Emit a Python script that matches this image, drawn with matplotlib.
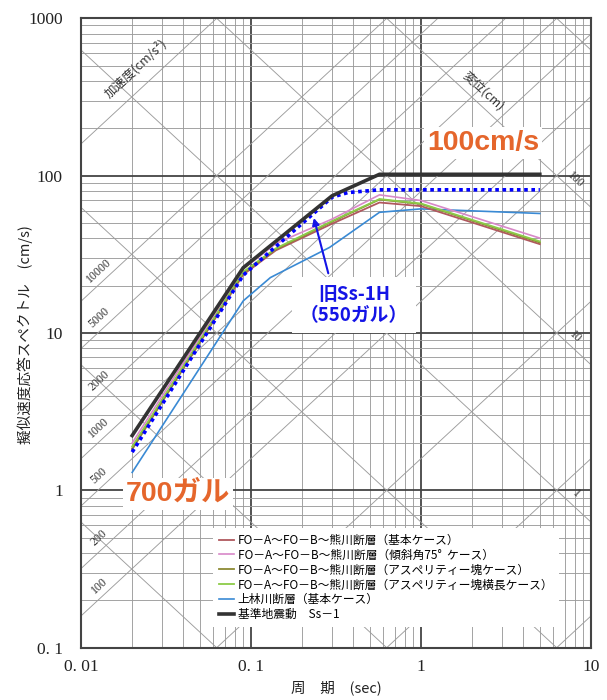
import numpy as np
import matplotlib
matplotlib.use("Agg")
import matplotlib.pyplot as plt
from matplotlib.ticker import LogLocator, FixedLocator, NullFormatter, FixedFormatter

JP = ['Noto Sans CJK JP', 'DejaVu Sans']
SERIF = ['Liberation Serif', 'DejaVu Serif']
plt.rcParams['font.family'] = JP

# ---------------- data ----------------
T_ss1 = [0.02, 0.09, 0.3, 0.57, 5.0]
Sv_ss1 = [2.23, 26.0, 74.5, 102.0, 102.0]

T_old = [0.02, 0.09, 0.3, 0.37, 0.57, 5.0]
Sv_old = [1.75, 23.3, 73.0, 78.0, 81.3, 81.3]

T_fault = [0.02, 0.09, 0.14, 0.3, 0.57, 1.0, 5.0]
Sv_kihon = [1.85, 23.5, 33.5, 49.5, 67.5, 64.0, 36.7]
Sv_keisha = [2.0, 25.5, 37.0, 53.0, 75.5, 69.5, 40.1]
Sv_asp = [1.82, 24.0, 34.0, 51.0, 70.5, 66.0, 37.6]
Sv_asp_long = [1.9, 24.5, 34.5, 51.5, 71.0, 66.5, 38.2]

T_kami = [0.02, 0.09, 0.13, 0.29, 0.57, 1.0, 5.0]
Sv_kami = [1.3, 16.0, 22.5, 35.0, 58.5, 61.5, 57.5]

labels = ['FO－A～FO－B～熊川断層（基本ケース）',
          'FO－A～FO－B～熊川断層（傾斜角75°  ケース）',
          'FO－A～FO－B～熊川断層（アスペリティー塊ケース）',
          'FO－A～FO－B～熊川断層（アスペリティー塊横長ケース）',
          '上林川断層（基本ケース）',
          '基準地震動　Ss－1']

x_ticks = [0.01, 0.1, 1, 10]
x_ticklabels = ['0. 01', '0. 1', '1', '10']
y_ticks = [0.1, 1, 10, 100, 1000]
y_ticklabels = ['0. 1', '1', '10', '100', '1000']

acc_lines = [0.1, 1, 10, 100, 200, 500, 1000, 2000, 5000, 10000, 100000]
acc_labels = [100, 200, 500, 1000, 2000, 5000, 10000]
disp_lines = [0.001, 0.01, 0.1, 1, 10, 100, 1000]
disp_labels = [1, 10, 100]

# ---------------- figure ----------------
W, H = 607, 700
fig = plt.figure(figsize=(W / 100, H / 100), dpi=100)
ax = fig.add_axes([81 / W, 1 - 647.7 / H, 510 / W, 629.4 / H])
ax.set_xscale('log')
ax.set_yscale('log')
ax.set_xlim(0.01, 10)
ax.set_ylim(0.1, 1000)

# grid
ax.xaxis.set_major_locator(FixedLocator(x_ticks))
ax.yaxis.set_major_locator(FixedLocator(y_ticks))
ax.xaxis.set_major_formatter(FixedFormatter(x_ticklabels))
ax.yaxis.set_major_formatter(FixedFormatter(y_ticklabels))
ax.xaxis.set_minor_locator(LogLocator(base=10, subs=np.arange(2, 10)))
ax.yaxis.set_minor_locator(LogLocator(base=10, subs=np.arange(2, 10)))
ax.xaxis.set_minor_formatter(NullFormatter())
ax.yaxis.set_minor_formatter(NullFormatter())
ax.grid(which='minor', color='#9c9c9c', lw=0.65, zorder=0)
ax.grid(which='major', color='#444444', lw=1.3, zorder=0)
ax.set_axisbelow(True)
ax.tick_params(which='both', length=0)
ax.tick_params(axis='y', pad=13)
ax.tick_params(axis='x', pad=8)
for lab in ax.get_xticklabels() + ax.get_yticklabels():
    lab.set_fontfamily(SERIF)
    lab.set_fontsize(12.5)
    lab.set_color('#222222')
for s in ax.spines.values():
    s.set_color('#444444')
    s.set_linewidth(1.5)

# tripartite lines
Tg = np.logspace(-2, 1, 200)
for a in acc_lines:
    ax.plot(Tg, a * Tg / (2 * np.pi), color='#9c9c9c', lw=0.65, zorder=1)
for d in disp_lines:
    ax.plot(Tg, 2 * np.pi * d / Tg, color='#9c9c9c', lw=0.65, zorder=1)

ang = np.degrees(np.arctan(157.3 / 170.0))
Ta = 0.0135
for a in acc_labels:
    ax.annotate(str(a), (Ta, a * Ta / (2 * np.pi)), xytext=(0, 4), textcoords='offset points',
                rotation=ang, rotation_mode='anchor', ha='center', va='bottom',
                fontsize=8.5, family=SERIF, color='#333333', zorder=2)
Td = 7.7
for d in disp_labels:
    ax.annotate(str(d), (Td, 2 * np.pi * d / Td), xytext=(0, 4), textcoords='offset points',
                rotation=-ang, rotation_mode='anchor', ha='center', va='bottom',
                fontsize=8.5, family=SERIF, color='#333333', zorder=2)
ax.text((136 - 81) / 510, (647.7 - 68) / 629.4, '加速度(cm/s²)', transform=ax.transAxes,
        rotation=ang, ha='center', va='center', fontsize=9, family=JP, color='#333333')
ax.text((483 - 81) / 510, (647.7 - 91) / 629.4, '変位(cm)', transform=ax.transAxes,
        rotation=-ang, ha='center', va='center', fontsize=9, family=JP, color='#333333')

# curves
ax.plot(T_kami, Sv_kami, color='#3a8ad4', lw=1.2, zorder=4, label=labels[4])
ax.plot(T_fault, Sv_kihon, color='#b0585e', lw=1.3, zorder=4, label=labels[0])
ax.plot(T_fault, Sv_asp, color='#8c8a34', lw=1.3, zorder=4, label=labels[2])
ax.plot(T_fault, Sv_asp_long, color='#8ccc48', lw=1.3, zorder=4, label=labels[3])
ax.plot(T_fault, Sv_keisha, color='#d888c8', lw=1.2, zorder=4, label=labels[1])
ax.plot(T_old, Sv_old, color='#0000ff', lw=2.6, ls=(0, (1, 1.0)), zorder=5)
ax.plot(T_ss1, Sv_ss1, color='#333333', lw=2.6, zorder=6, label=labels[5])

# legend
h, l = ax.get_legend_handles_labels()
order = [labels.index(x) for x in l]
hl = sorted(zip(order, h, l))
leg = ax.legend([x[1] for x in hl], [x[2] for x in hl], loc='lower left',
                bbox_to_anchor=((213 - 81) / 510, (647.7 - 627) / 629.4),
                frameon=True, fancybox=False, framealpha=1, edgecolor='none', facecolor='white',
                fontsize=8.5, handlelength=1.3, handletextpad=0.3, labelspacing=0.16,
                borderpad=0.5, borderaxespad=0)
leg.set_zorder(7)

# annotations
ax.text((483 - 81) / 510, (647.7 - 143) / 629.4, '100cm/s', transform=ax.transAxes,
        ha='center', va='center', fontsize=20.5, fontweight='bold', color='#e5662c',
        family=['Liberation Sans', 'Noto Sans CJK JP'], zorder=8,
        bbox=dict(facecolor='white', edgecolor='none', pad=2))
ax.text((178 - 81) / 510, (647.7 - 494) / 629.4, '700ガル', transform=ax.transAxes,
        ha='center', va='center', fontsize=20.5, fontweight='bold', color='#e5662c',
        family=['Liberation Sans', 'Noto Sans CJK JP'], zorder=8,
        bbox=dict(facecolor='white', edgecolor='none', pad=2))
ax.text((354 - 81) / 510, (647.7 - 305) / 629.4, '旧Ss-1H\n（550ガル）', transform=ax.transAxes,
        ha='center', va='center', fontsize=13.5, fontweight='bold', color='#1414e6',
        family=JP, zorder=8, linespacing=1.15,
        bbox=dict(facecolor='white', edgecolor='none', pad=6))
ax.annotate('', xy=(0.232, 56), xytext=((329 - 81) / 510, (647.7 - 276) / 629.4),
            textcoords='axes fraction',
            arrowprops=dict(arrowstyle='-|>', color='#1414e6', lw=1.5, mutation_scale=10),
            zorder=9)

# axis titles
fig.text(25 / W, 1 - 335 / H, '擬似速度応答スペクトル　(cm/s)', rotation=90,
         ha='center', va='center', fontsize=10.5, color='#222222', family=JP)
fig.text(336 / W, 1 - 688 / H, '周　期　(sec)', ha='center', va='center',
         fontsize=10.5, color='#222222', family=JP)

fig.savefig('out.png', dpi=100, facecolor='white')
